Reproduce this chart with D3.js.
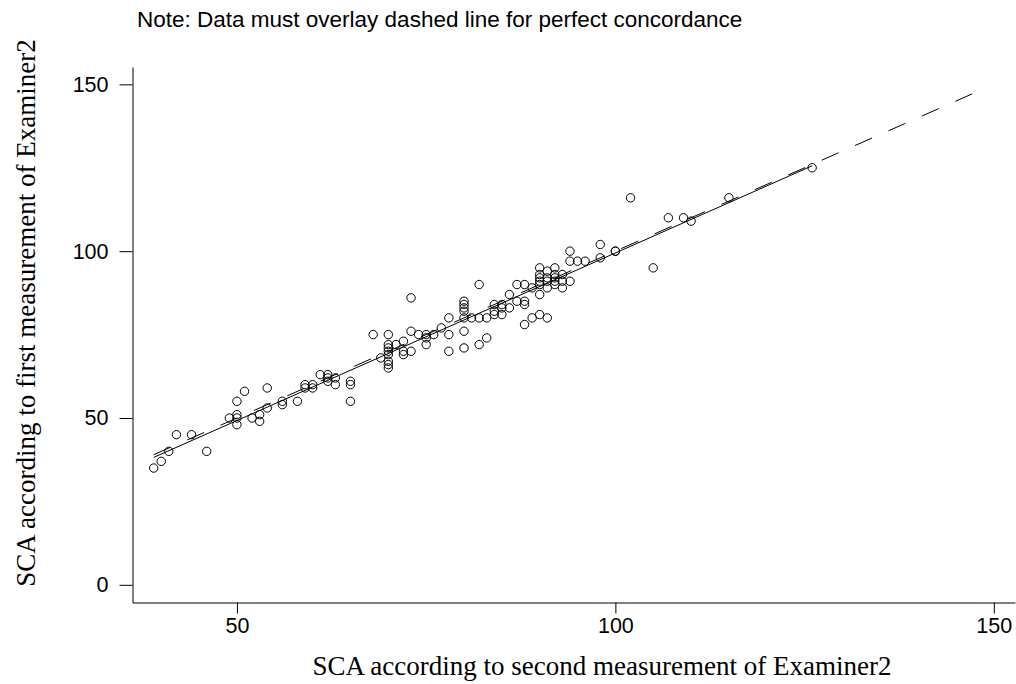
<!DOCTYPE html>
<html>
<head>
<meta charset="utf-8">
<script src="https://cdn.jsdelivr.net/npm/d3@7"></script>
<style>
  body { margin: 0; background: #fff; }
  svg { display: block; }
</style>
</head>
<body>
<svg width="1016" height="684"></svg>
<script>
// Concordance plot: SCA, second vs first measurement of Examiner2

const secondMeasure = [
  39, 40, 41, 42, 44, 46, 49, 50, 50, 50, 50, 51, 52, 53, 53, 54, 54, 56, 56, 58, 59, 59,
  60, 60, 61, 62, 62, 62, 63, 63, 65, 65, 65, 68, 69, 70, 70, 70, 70, 70, 70, 70, 70,
  71, 72, 72, 72, 73, 73, 73, 74, 75, 75, 75, 76, 77, 78, 78, 78,
  80, 80, 80, 80, 80, 80, 80, 81, 82, 82, 82, 83, 83, 84, 84, 84, 85, 85, 85, 86, 86,
  87, 87, 88, 88, 88, 88, 89, 89, 90, 90, 90, 90, 90, 90, 90, 91, 91, 91, 91, 91,
  92, 92, 92, 92, 92, 93, 93, 93, 94, 94, 94, 95, 96, 98, 98, 100, 100,
  102, 105, 107, 109, 110, 115, 126
];
const firstMeasure = [
  35, 37, 40, 45, 45, 40, 50, 55, 51, 50, 48, 58, 50, 51, 49, 59, 53, 55, 54, 55, 60, 59,
  60, 59, 63, 63, 62, 61, 62, 60, 61, 60, 55, 75, 68, 75, 72, 71, 70, 69, 67, 66, 65,
  72, 73, 70, 69, 86, 76, 70, 75, 75, 74, 72, 75, 77, 80, 75, 70,
  85, 84, 83, 82, 80, 76, 71, 80, 80, 90, 72, 80, 74, 84, 82, 81, 84, 83, 81, 87, 83,
  90, 85, 90, 85, 84, 78, 89, 80, 95, 93, 92, 91, 90, 87, 81, 94, 92, 91, 89, 80,
  95, 93, 92, 91, 90, 93, 91, 89, 100, 97, 91, 97, 97, 102, 98, 100, 100,
  116, 95, 110, 110, 109, 116, 125
];

// line of perfect concordance (y = x) runs over this range
const concordRange = [39, 148];

const xTicks = [50, 100, 150];
const yTicks = [0, 50, 100, 150];

const noteText = "Note: Data must overlay dashed line for perfect concordance";
const xTitle = "SCA according to second measurement of Examiner2";
const yTitle = "SCA according to first measurement of Examiner2";

const points = secondMeasure.map((v, i) => ({x: v, y: firstMeasure[i]}));

// least squares fit of first on second measurement
const mx = d3.mean(points, d => d.x);
const my = d3.mean(points, d => d.y);
const slope = d3.sum(points, d => (d.x - mx) * (d.y - my)) / d3.sum(points, d => (d.x - mx) ** 2);
const intercept = my - slope * mx;
const xExtent = d3.extent(points, d => d.x);
const fitLine = xExtent.map(v => ({x: v, y: intercept + slope * v}));
const concordLine = concordRange.map(v => ({x: v, y: v}));

const x = d3.scaleLinear().domain([36.2, 152.8]).range([132.5, 1015]);
const y = d3.scaleLinear().domain([-5.3, 155.2]).range([602.5, 67]);

const svg = d3.select("svg");
const sans = "'Liberation Sans', Arial, sans-serif";
const serif = "'Liberation Serif', 'Times New Roman', serif";

// axes
const xAxis = svg.append("g")
    .attr("transform", `translate(0,${y.range()[0]})`)
    .call(d3.axisBottom(x).tickValues(xTicks).tickSize(11).tickSizeOuter(0).tickPadding(4));
const yAxis = svg.append("g")
    .attr("transform", `translate(${x.range()[0]},0)`)
    .call(d3.axisLeft(y).tickValues(yTicks).tickSize(13).tickSizeOuter(0).tickPadding(11));

[xAxis, yAxis].forEach(g => {
  g.selectAll("path, line").attr("stroke", "#000").attr("stroke-width", 1);
  g.selectAll("text")
    .attr("fill", "#000")
    .style("font-family", sans)
    .style("font-size", "21.5px");
});

const line = d3.line().x(d => x(d.x)).y(d => y(d.y));

svg.append("path")
    .datum(concordLine)
    .attr("d", line)
    .attr("fill", "none")
    .attr("stroke", "#000")
    .attr("stroke-width", 1)
    .attr("stroke-dasharray", "18.5,18");

svg.append("path")
    .datum(fitLine)
    .attr("d", line)
    .attr("fill", "none")
    .attr("stroke", "#000")
    .attr("stroke-width", 1);

svg.append("g")
  .selectAll("circle")
  .data(points)
  .join("circle")
    .attr("cx", d => x(d.x))
    .attr("cy", d => y(d.y))
    .attr("r", 4.2)
    .attr("fill", "none")
    .attr("stroke", "#000")
    .attr("stroke-width", 1);

// titles
svg.append("text")
    .attr("x", 137)
    .attr("y", 27)
    .style("font-family", sans)
    .style("font-size", "22.5px")
    .text(noteText);

svg.append("text")
    .attr("x", 602)
    .attr("y", 675)
    .attr("text-anchor", "middle")
    .style("font-family", serif)
    .style("font-size", "27px")
    .text(xTitle);

svg.append("text")
    .attr("transform", "translate(35,313) rotate(-90)")
    .attr("text-anchor", "middle")
    .style("font-family", serif)
    .style("font-size", "27px")
    .text(yTitle);
</script>
</body>
</html>
